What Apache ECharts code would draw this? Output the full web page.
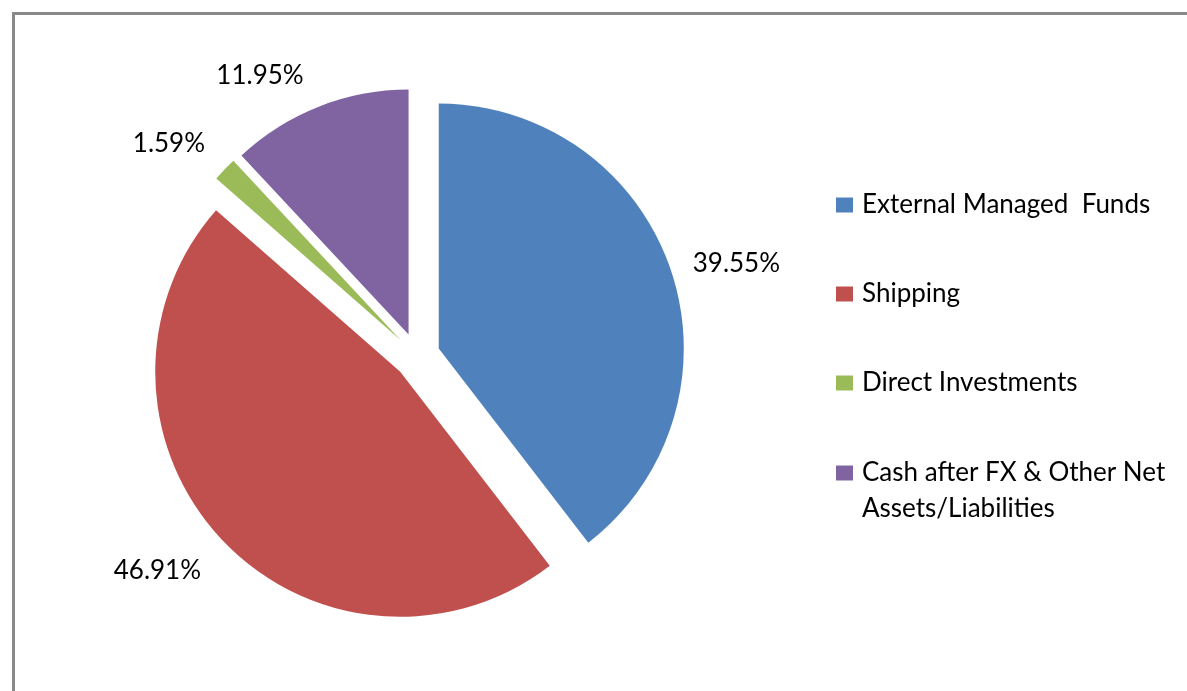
<!DOCTYPE html>
<html>
<head>
<meta charset="utf-8">
<script src="https://cdn.jsdelivr.net/npm/echarts@6/dist/echarts.min.js"></script>
<style>
  html, body { margin: 0; padding: 0; background: #fff; }
  #chart { width: 1187px; height: 691px; }
</style>
</head>
<body>
<div id="chart"></div>
<script>
// ---- data ----
const categories = [
  'External Managed  Funds',
  'Shipping',
  'Direct Investments',
  'Cash after FX & Other Net Assets/Liabilities'
];
const values = [39.55, 46.91, 1.59, 11.95];

// ---- style / layout (not data) ----
const colors = ['#4F81BD', '#C0504D', '#9BBB59', '#8064A2'];
const labelLineLen = [18, 46, 37, 33];
const labelLineLen2 = [0, -18, -12, -2];
const FONT = 'Lato';

const seriesData = categories.map((name, i) => ({
  name: name,
  value: values[i],
  selected: true,
  itemStyle: { color: colors[i] },
  labelLine: { show: false, length: labelLineLen[i], length2: labelLineLen2[i] }
}));

const chart = echarts.init(document.getElementById('chart'), null, { renderer: 'canvas' });
chart.setOption({
  animation: false,
  backgroundColor: '#ffffff',
  graphic: [{
    type: 'polyline',
    shape: { points: [[13.5, 691], [13.5, 13.5], [1187, 13.5]] },
    style: { stroke: '#898989', lineWidth: 3, fill: null },
    silent: true
  }],
  legend: [{
    orient: 'vertical',
    left: 836,
    top: 192,
    padding: 0,
    itemGap: 63,
    itemWidth: 17,
    itemHeight: 15,
    icon: 'rect',
    selectedMode: false,
    data: categories.slice(0, 3),
    textStyle: {
      fontFamily: FONT, fontSize: 26, color: '#000', lineHeight: 26,
      padding: [0, 0, 0, 4]
    }
  }, {
    orient: 'vertical',
    left: 836,
    top: 419,
    padding: 0,
    itemWidth: 17,
    itemHeight: 15,
    icon: 'rect',
    selectedMode: false,
    data: categories.slice(3),
    formatter: function (name) {
      // leading blank line keeps the first text line level with the marker
      return '\u00a0\nCash after FX & Other Net\nAssets/Liabilities';
    },
    textStyle: {
      fontFamily: FONT, fontSize: 26, color: '#000', lineHeight: 36,
      padding: [0, 0, 0, 4]
    }
  }],
  series: [{
    type: 'pie',
    center: [417, 356],
    radius: 245,
    startAngle: 90,
    clockwise: true,
    selectedMode: 'multiple',
    selectedOffset: 23,
    avoidLabelOverlap: false,
    emphasis: { disabled: true },
    label: {
      show: true,
      position: 'outside',
      fontFamily: FONT,
      fontSize: 26,
      color: '#000',
      formatter: function (p) { return p.value.toFixed(2) + '%'; }
    },
    labelLine: { show: false },
    data: seriesData
  }]
});
</script>
</body>
</html>
